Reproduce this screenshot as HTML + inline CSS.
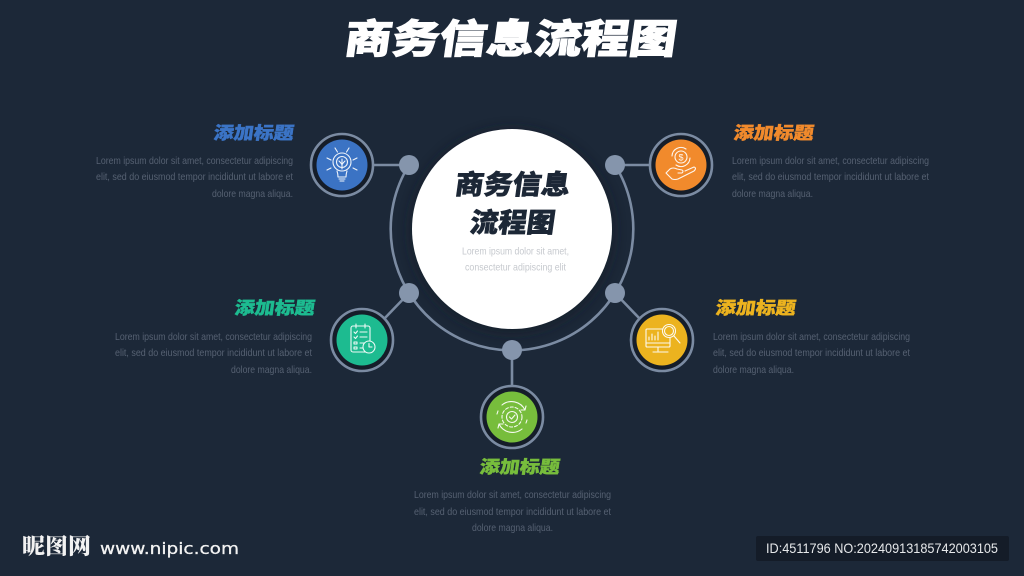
<!DOCTYPE html>
<html lang="zh"><head><meta charset="utf-8"><title>商务信息流程图</title>
<style>
html,body{margin:0;padding:0;background:#1c2838;width:1024px;height:576px;overflow:hidden}
svg{display:block}
.h{font-family:"Noto Sans CJK SC","WenQuanYi Zen Hei",sans-serif;font-weight:900}
.b{font-family:"Liberation Sans",sans-serif;font-size:10.4px;fill:#566172}
.c{fill:#c6c9ce;font-size:10.2px}
.ic{fill:none;stroke:#fff;stroke-width:1.1;stroke-linecap:round;stroke-linejoin:round;opacity:.92}
</style></head><body>
<svg width="1024" height="576" viewBox="0 0 1024 576" xmlns="http://www.w3.org/2000/svg">
<defs><filter id="s" x="-30%" y="-30%" width="160%" height="160%"><feGaussianBlur stdDeviation="6"/></filter></defs>
<rect width="1024" height="576" fill="#1c2838"/>

<!-- title -->
<g transform="translate(343,53) skewX(-8)"><text class="h" x="0" y="0" font-size="40" fill="#fff" stroke="#fff" stroke-width="1" textLength="332" lengthAdjust="spacingAndGlyphs">商务信息流程图</text></g>

<!-- connectors -->
<g fill="none" stroke="#7b8ba2" stroke-width="2.6">
<path d="M409 165A121.3 121.3 0 1 0 615 165"/>
<path d="M372 165H409M651 165H615M384 319L409 293M640 319L615 293M512 350V386"/>
</g>

<!-- central circle -->
<circle cx="512" cy="231" r="102" fill="#121a25" opacity=".65" filter="url(#s)"/>
<circle cx="512" cy="229" r="100" fill="#fff"/>
<g transform="translate(454,194) skewX(-8)"><text class="h" x="0" y="0" font-size="27" fill="#1c2736" stroke="#1c2736" stroke-width=".6" textLength="115" lengthAdjust="spacingAndGlyphs">商务信息</text></g>
<g transform="translate(469,232) skewX(-8)"><text class="h" x="0" y="0" font-size="27" fill="#1c2736" stroke="#1c2736" stroke-width=".6" textLength="85" lengthAdjust="spacingAndGlyphs">流程图</text></g>
<text class="b c" x="462" y="254.500" textLength="107" lengthAdjust="spacingAndGlyphs">Lorem ipsum dolor sit amet,</text>
<text class="b c" x="465" y="270.500" textLength="101" lengthAdjust="spacingAndGlyphs">consectetur adipiscing elit</text>

<!-- dots -->
<g fill="#8595ac"><circle cx="409" cy="165" r="10"/><circle cx="615" cy="165" r="10"/><circle cx="409" cy="293" r="10"/><circle cx="615" cy="293" r="10"/><circle cx="512" cy="350" r="10"/></g>

<!-- rings -->
<g fill="#151d29" stroke="#7b8ba2" stroke-width="2.6">
<circle cx="342" cy="165" r="31"/><circle cx="681" cy="165" r="31"/><circle cx="362" cy="340" r="31"/><circle cx="662" cy="340" r="31"/><circle cx="512" cy="417" r="31"/>
</g>
<circle cx="342" cy="165" r="25.500" fill="#3b73c4"/>
<circle cx="681" cy="165" r="25.500" fill="#f18a2c"/>
<circle cx="362" cy="340" r="25.500" fill="#1dbb90"/>
<circle cx="662" cy="340" r="25.500" fill="#ecb31f"/>
<circle cx="512" cy="417" r="25.500" fill="#77bd3c"/>

<!-- bulb icon -->
<g class="ic" transform="translate(342,165)">
<circle cx="0" cy="-3" r="9"/><circle cx="0" cy="-3" r="5.500"/>
<path d="M-5 6Q-4 9-4 12H4Q4 9 5 6M-3 14H3M-2 16H2M0 -6V4M-3 -4Q0 -1 0 0Q0 -1 3 -4"/>
<path d="M-7 -17L-4.500 -13M7 -17L4.500 -13M-15 -7L-11 -5M15 -7L11 -5M-15 5L-11 3M15 5L11 3"/>
</g>
<!-- hand coin icon -->
<g class="ic" transform="translate(681,165)">
<circle cx="0" cy="-8" r="6"/><path d="M-9 -9A9 9 0 0 1 5 -16M9 -7A9 9 0 0 1 -5 0"/>
<text x="0" y="-4.500" text-anchor="middle" font-family="Liberation Sans" font-size="9" fill="#fff" stroke="none">$</text>
<path d="M-15 8L-11 4Q-8 2 -4 4L1 5Q3 6 1 8L-3 8M-15 8L-9 14Q-6 15 -3 14L13 6Q16 3 13 2L4 6"/>
</g>
<!-- checklist icon -->
<g class="ic" transform="translate(362,340)">
<rect x="-11" y="-14" width="19" height="26" rx="2"/>
<path d="M-6 -16V-12M3 -16V-12M-8 -8L-6.500 -6.500L-4.500 -9M-2 -8H5M-8 -3L-6.500 -1.500L-4.500 -4M-2 -3H5M-8 2H-5V4H-8ZM-2 3H3M-8 7H-5V9H-8ZM-2 8H2"/>
<circle cx="7" cy="7" r="6" fill="#1dbb90"/><path d="M7 3.500V7H10"/>
</g>
<!-- monitor search icon -->
<g class="ic" transform="translate(662,340)">
<rect x="-16" y="-11" width="24" height="18" rx="1"/>
<path d="M-16 3H8M-4 7V11M-9 12H6M-13 0V-3M-10 0V-6M-7 0V-4M-4 0V-8"/>
<circle cx="7" cy="-9" r="6.500" fill="#ecb31f"/><circle cx="7" cy="-9" r="4.500"/><path d="M12 -4L18 3"/>
</g>
<!-- gear cycle icon -->
<g class="ic" transform="translate(512,417)">
<circle cx="0" cy="0" r="5.500"/><path d="M-2.500 0L-.5 2L3 -2"/>
<circle cx="0" cy="0" r="10" stroke-dasharray="3 2"/>
<path d="M-10 -12A15 15 0 0 1 13 -7M13 -7L14 -11M13 -7L9 -7M10 12A15 15 0 0 1 -13 7M-13 7L-14 11M-13 7L-9 7M-15 -3L-14 -6M15 3L14 6"/>
</g>

<!-- left-top -->
<g transform="translate(213,139) skewX(-8)"><text class="h" x="0" y="0" font-size="17.500" fill="#3b74c6" stroke="#3b74c6" stroke-width=".4" textLength="80" lengthAdjust="spacingAndGlyphs">添加标题</text></g>
<text class="b" x="96" y="164" textLength="197" lengthAdjust="spacingAndGlyphs">Lorem ipsum dolor sit amet, consectetur adipiscing</text>
<text class="b" x="96" y="180" textLength="197" lengthAdjust="spacingAndGlyphs">elit, sed do eiusmod tempor incididunt ut labore et</text>
<text class="b" x="212" y="197" textLength="81" lengthAdjust="spacingAndGlyphs">dolore magna aliqua.</text>

<!-- right-top -->
<g transform="translate(733,139) skewX(-8)"><text class="h" x="0" y="0" font-size="17.500" fill="#f18a2c" stroke="#f18a2c" stroke-width=".4" textLength="80" lengthAdjust="spacingAndGlyphs">添加标题</text></g>
<text class="b" x="732" y="164" textLength="197" lengthAdjust="spacingAndGlyphs">Lorem ipsum dolor sit amet, consectetur adipiscing</text>
<text class="b" x="732" y="180" textLength="197" lengthAdjust="spacingAndGlyphs">elit, sed do eiusmod tempor incididunt ut labore et</text>
<text class="b" x="732" y="197" textLength="81" lengthAdjust="spacingAndGlyphs">dolore magna aliqua.</text>

<!-- left-mid -->
<g transform="translate(234,314) skewX(-8)"><text class="h" x="0" y="0" font-size="17.500" fill="#1dbb90" stroke="#1dbb90" stroke-width=".4" textLength="80" lengthAdjust="spacingAndGlyphs">添加标题</text></g>
<text class="b" x="115" y="340" textLength="197" lengthAdjust="spacingAndGlyphs">Lorem ipsum dolor sit amet, consectetur adipiscing</text>
<text class="b" x="115" y="356" textLength="197" lengthAdjust="spacingAndGlyphs">elit, sed do eiusmod tempor incididunt ut labore et</text>
<text class="b" x="231" y="373" textLength="81" lengthAdjust="spacingAndGlyphs">dolore magna aliqua.</text>

<!-- right-mid -->
<g transform="translate(715,314) skewX(-8)"><text class="h" x="0" y="0" font-size="17.500" fill="#ecb31f" stroke="#ecb31f" stroke-width=".4" textLength="80" lengthAdjust="spacingAndGlyphs">添加标题</text></g>
<text class="b" x="713" y="340" textLength="197" lengthAdjust="spacingAndGlyphs">Lorem ipsum dolor sit amet, consectetur adipiscing</text>
<text class="b" x="713" y="356" textLength="197" lengthAdjust="spacingAndGlyphs">elit, sed do eiusmod tempor incididunt ut labore et</text>
<text class="b" x="713" y="373" textLength="81" lengthAdjust="spacingAndGlyphs">dolore magna aliqua.</text>

<!-- bottom -->
<g transform="translate(479,473) skewX(-8)"><text class="h" x="0" y="0" font-size="17.500" fill="#77bd3c" stroke="#77bd3c" stroke-width=".4" textLength="80" lengthAdjust="spacingAndGlyphs">添加标题</text></g>
<text class="b" x="414" y="498" textLength="197" lengthAdjust="spacingAndGlyphs">Lorem ipsum dolor sit amet, consectetur adipiscing</text>
<text class="b" x="414" y="515" textLength="197" lengthAdjust="spacingAndGlyphs">elit, sed do eiusmod tempor incididunt ut labore et</text>
<text class="b" x="472" y="531" textLength="81" lengthAdjust="spacingAndGlyphs">dolore magna aliqua.</text>

<!-- watermark -->
<text x="22" y="554" font-family="'Noto Serif CJK SC',serif" font-weight="900" font-size="22" fill="#f2f2f2" textLength="69" lengthAdjust="spacingAndGlyphs">昵图网</text>
<text x="100" y="554" font-family="'DejaVu Sans',sans-serif" font-size="16" fill="#f2f2f2" stroke="#f2f2f2" stroke-width=".3" textLength="139" lengthAdjust="spacingAndGlyphs">www.nipic.com</text>
<rect x="756" y="536" width="253" height="25" rx="2" fill="#141c28"/>
<text x="766" y="553" font-family="'Liberation Sans',sans-serif" font-size="14" fill="#e6e8ea" textLength="232" lengthAdjust="spacingAndGlyphs">ID:4511796 NO:20240913185742003105</text>
</svg>
</body></html>
